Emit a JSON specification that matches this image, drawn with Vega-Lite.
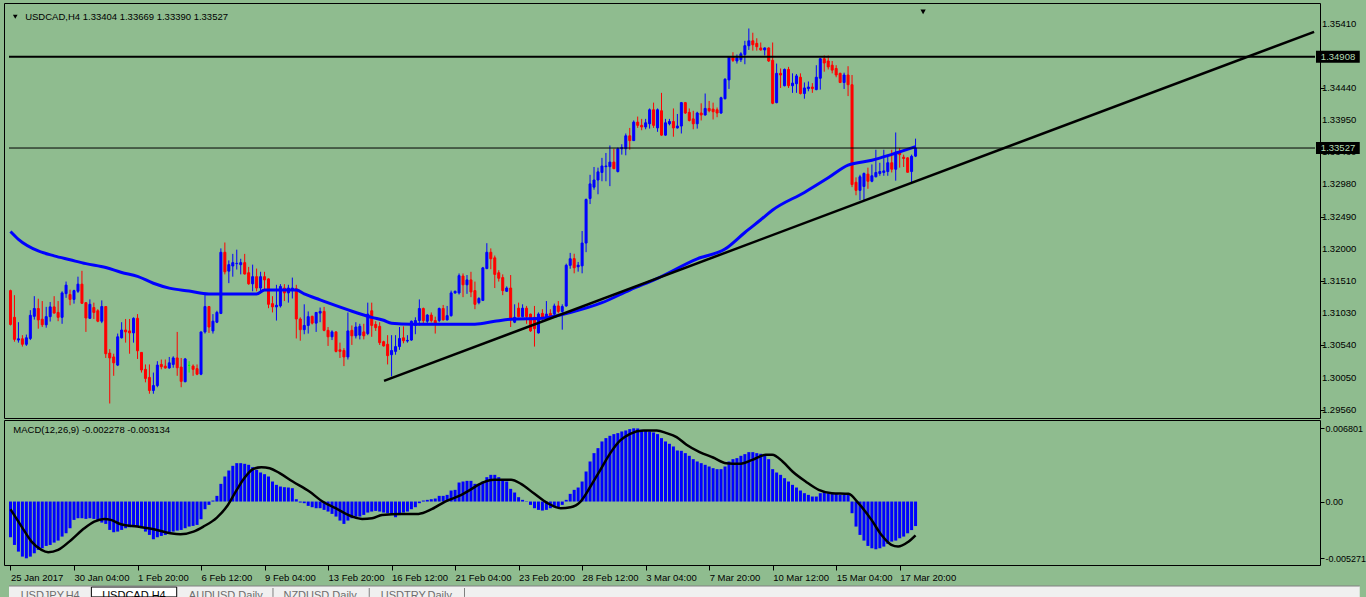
{
"$schema":"https://vega.github.io/schema/vega-lite/v6.json",
"background":"#8FBC8F",
"padding":{"left":3,"top":2,"right":0,"bottom":0},
"config":{"view":{"stroke":"#000000","strokeWidth":1},"font":"Liberation Sans","axis":{"labelFont":"Liberation Sans","titleFont":"Liberation Sans","labelOverlap":false,"labelSeparation":0,"title":null,"grid":false},"text":{"font":"Liberation Sans"}},
"bounds":"flush",
"spacing":2,
"datasets":{
"bars":[
{"i":0,"o":1.31369,"h":1.31383,"l":1.30842,"c":1.30857,"m":-0.003317},
{"i":1,"o":1.30965,"h":1.313,"l":1.30596,"c":1.30631,"m":-0.00403},
{"i":2,"o":1.30621,"h":1.30891,"l":1.30582,"c":1.3064,"m":-0.00465},
{"i":3,"o":1.3064,"h":1.30695,"l":1.30522,"c":1.30557,"m":-0.005115},
{"i":4,"o":1.30557,"h":1.30704,"l":1.30532,"c":1.30655,"m":-0.005271},
{"i":5,"o":1.30645,"h":1.31073,"l":1.30621,"c":1.30995,"m":-0.005115},
{"i":6,"o":1.3098,"h":1.31285,"l":1.30931,"c":1.31098,"m":-0.004805},
{"i":7,"o":1.31098,"h":1.31246,"l":1.30793,"c":1.30926,"m":-0.004495},
{"i":8,"o":1.30936,"h":1.31211,"l":1.30818,"c":1.30852,"m":-0.00434},
{"i":9,"o":1.30852,"h":1.31123,"l":1.30808,"c":1.30975,"m":-0.004123},
{"i":10,"o":1.30975,"h":1.31196,"l":1.30901,"c":1.31123,"m":-0.00403},
{"i":11,"o":1.31123,"h":1.31285,"l":1.31024,"c":1.31029,"m":-0.003813},
{"i":12,"o":1.31039,"h":1.31211,"l":1.30906,"c":1.30965,"m":-0.003627},
{"i":13,"o":1.30965,"h":1.31359,"l":1.30867,"c":1.31334,"m":-0.003255},
{"i":14,"o":1.31324,"h":1.31506,"l":1.3126,"c":1.31452,"m":-0.002945},
{"i":15,"o":1.3131,"h":1.31383,"l":1.31147,"c":1.31236,"m":-0.00248},
{"i":16,"o":1.31236,"h":1.31383,"l":1.31172,"c":1.31369,"m":-0.001705},
{"i":17,"o":1.31359,"h":1.3158,"l":1.31334,"c":1.31467,"m":-0.00155},
{"i":18,"o":1.31467,"h":1.31669,"l":1.3117,"c":1.31177,"m":-0.00155},
{"i":19,"o":1.31187,"h":1.3119,"l":1.30744,"c":1.30955,"m":-0.001612},
{"i":20,"o":1.3095,"h":1.31236,"l":1.3094,"c":1.31162,"m":-0.00155},
{"i":21,"o":1.31113,"h":1.31187,"l":1.3094,"c":1.31039,"m":-0.001612},
{"i":22,"o":1.31064,"h":1.31088,"l":1.30891,"c":1.30906,"m":-0.001705},
{"i":23,"o":1.30906,"h":1.31221,"l":1.30877,"c":1.31128,"m":-0.001953},
{"i":24,"o":1.31128,"h":1.31135,"l":1.3035,"c":1.30414,"m":-0.002077},
{"i":25,"o":1.30424,"h":1.30483,"l":1.29661,"c":1.3035,"m":-0.002635},
{"i":26,"o":1.30365,"h":1.30414,"l":1.3008,"c":1.30276,"m":-0.002852},
{"i":27,"o":1.30242,"h":1.30719,"l":1.30227,"c":1.3067,"m":-0.00279},
{"i":28,"o":1.30655,"h":1.30891,"l":1.30645,"c":1.30773,"m":-0.002635},
{"i":29,"o":1.30773,"h":1.3094,"l":1.30582,"c":1.30744,"m":-0.00248},
{"i":30,"o":1.30759,"h":1.3094,"l":1.30414,"c":1.30729,"m":-0.002387},
{"i":31,"o":1.30729,"h":1.30965,"l":1.30582,"c":1.3095,"m":-0.002325},
{"i":32,"o":1.3095,"h":1.31014,"l":1.30335,"c":1.30458,"m":-0.002325},
{"i":33,"o":1.30434,"h":1.3044,"l":1.30129,"c":1.30168,"m":-0.00248},
{"i":34,"o":1.30178,"h":1.30252,"l":1.29981,"c":1.3004,"m":-0.00279},
{"i":35,"o":1.30055,"h":1.30252,"l":1.29809,"c":1.29858,"m":-0.0031},
{"i":36,"o":1.29858,"h":1.30129,"l":1.29809,"c":1.29932,"m":-0.003503},
{"i":37,"o":1.29932,"h":1.30301,"l":1.29907,"c":1.30242,"m":-0.003317},
{"i":38,"o":1.30252,"h":1.30326,"l":1.30178,"c":1.30217,"m":-0.003193},
{"i":39,"o":1.30227,"h":1.30326,"l":1.30188,"c":1.30198,"m":-0.0031},
{"i":40,"o":1.30198,"h":1.30365,"l":1.30188,"c":1.30276,"m":-0.002945},
{"i":41,"o":1.30252,"h":1.30375,"l":1.30202,"c":1.3035,"m":-0.00279},
{"i":42,"o":1.3035,"h":1.30744,"l":1.3008,"c":1.30202,"m":-0.002697},
{"i":43,"o":1.30212,"h":1.3035,"l":1.29907,"c":1.29996,"m":-0.002635},
{"i":44,"o":1.29991,"h":1.3035,"l":1.29981,"c":1.30335,"m":-0.00248},
{"i":45,"o":1.30237,"h":1.30301,"l":1.30129,"c":1.30237,"m":-0.002325},
{"i":46,"o":1.30227,"h":1.30252,"l":1.3008,"c":1.30178,"m":-0.002263},
{"i":47,"o":1.30188,"h":1.30252,"l":1.30089,"c":1.30104,"m":-0.00217},
{"i":48,"o":1.30104,"h":1.30744,"l":1.30089,"c":1.30744,"m":-0.001643},
{"i":49,"o":1.30744,"h":1.3131,"l":1.30719,"c":1.31128,"m":-0.000713},
{"i":50,"o":1.31128,"h":1.31137,"l":1.30729,"c":1.30818,"m":-0.00031},
{"i":51,"o":1.30759,"h":1.31014,"l":1.30719,"c":1.30906,"m":0.000093},
{"i":52,"o":1.30891,"h":1.31064,"l":1.30877,"c":1.31039,"m":0.000527},
{"i":53,"o":1.31024,"h":1.32008,"l":1.31014,"c":1.31949,"m":0.001643},
{"i":54,"o":1.31949,"h":1.32097,"l":1.31615,"c":1.31654,"m":0.002325},
{"i":55,"o":1.31664,"h":1.31826,"l":1.31482,"c":1.31762,"m":0.002883},
{"i":56,"o":1.31742,"h":1.31925,"l":1.3158,"c":1.31792,"m":0.003317},
{"i":57,"o":1.31777,"h":1.31989,"l":1.31688,"c":1.31782,"m":0.003565},
{"i":58,"o":1.31762,"h":1.31851,"l":1.31615,"c":1.31792,"m":0.003565},
{"i":59,"o":1.31792,"h":1.31925,"l":1.31615,"c":1.3162,"m":0.003503},
{"i":60,"o":1.31639,"h":1.31728,"l":1.31457,"c":1.31472,"m":0.00341},
{"i":61,"o":1.31472,"h":1.31762,"l":1.31359,"c":1.3158,"m":0.003193},
{"i":62,"o":1.3158,"h":1.31703,"l":1.31359,"c":1.31408,"m":0.002945},
{"i":63,"o":1.31408,"h":1.31654,"l":1.31359,"c":1.3158,"m":0.002697},
{"i":64,"o":1.3158,"h":1.31654,"l":1.31369,"c":1.31531,"m":0.002542},
{"i":65,"o":1.31546,"h":1.31556,"l":1.31103,"c":1.31162,"m":0.002325},
{"i":66,"o":1.31172,"h":1.31285,"l":1.31039,"c":1.31123,"m":0.00186},
{"i":67,"o":1.31123,"h":1.31457,"l":1.30916,"c":1.31147,"m":0.00155},
{"i":68,"o":1.31137,"h":1.31467,"l":1.31113,"c":1.31432,"m":0.001395},
{"i":69,"o":1.31408,"h":1.31467,"l":1.31211,"c":1.31334,"m":0.001333},
{"i":70,"o":1.31334,"h":1.31457,"l":1.31187,"c":1.31408,"m":0.001302},
{"i":71,"o":1.31393,"h":1.31566,"l":1.3125,"c":1.31408,"m":0.00124},
{"i":72,"o":1.31398,"h":1.31457,"l":1.30645,"c":1.3094,"m":0.000217},
{"i":73,"o":1.3094,"h":1.30965,"l":1.30611,"c":1.30778,"m":-0.000093},
{"i":74,"o":1.30778,"h":1.31162,"l":1.30709,"c":1.30842,"m":-0.000155},
{"i":75,"o":1.30842,"h":1.31054,"l":1.30719,"c":1.30975,"m":-0.000403},
{"i":76,"o":1.3098,"h":1.30989,"l":1.30857,"c":1.30877,"m":-0.000527},
{"i":77,"o":1.30877,"h":1.31045,"l":1.30744,"c":1.31039,"m":-0.00062},
{"i":78,"o":1.31029,"h":1.31113,"l":1.30891,"c":1.31054,"m":-0.00062},
{"i":79,"o":1.31054,"h":1.31123,"l":1.30754,"c":1.30768,"m":-0.000775},
{"i":80,"o":1.30768,"h":1.30818,"l":1.30532,"c":1.3067,"m":-0.00093},
{"i":81,"o":1.3067,"h":1.30768,"l":1.30621,"c":1.30744,"m":-0.001147},
{"i":82,"o":1.30744,"h":1.30754,"l":1.30434,"c":1.30449,"m":-0.001395},
{"i":83,"o":1.30473,"h":1.30582,"l":1.3035,"c":1.30449,"m":-0.001767},
{"i":84,"o":1.30463,"h":1.30498,"l":1.30227,"c":1.30365,"m":-0.002077},
{"i":85,"o":1.30365,"h":1.31039,"l":1.30326,"c":1.30759,"m":-0.001767},
{"i":86,"o":1.30768,"h":1.30842,"l":1.30547,"c":1.30685,"m":-0.00155},
{"i":87,"o":1.30685,"h":1.30891,"l":1.30645,"c":1.30818,"m":-0.001395},
{"i":88,"o":1.30695,"h":1.30867,"l":1.30631,"c":1.30828,"m":-0.001395},
{"i":89,"o":1.30744,"h":1.30867,"l":1.30631,"c":1.30685,"m":-0.00124},
{"i":90,"o":1.30719,"h":1.31187,"l":1.30695,"c":1.31014,"m":-0.001023},
{"i":91,"o":1.31064,"h":1.31187,"l":1.3067,"c":1.30842,"m":-0.00093},
{"i":92,"o":1.30857,"h":1.30906,"l":1.30759,"c":1.30808,"m":-0.000868},
{"i":93,"o":1.30828,"h":1.30891,"l":1.30547,"c":1.30582,"m":-0.00093},
{"i":94,"o":1.30596,"h":1.30611,"l":1.30522,"c":1.30532,"m":-0.001023},
{"i":95,"o":1.30557,"h":1.30695,"l":1.30252,"c":1.30385,"m":-0.001085},
{"i":96,"o":1.30399,"h":1.30695,"l":1.3007,"c":1.30463,"m":-0.00124},
{"i":97,"o":1.30449,"h":1.30695,"l":1.30399,"c":1.30522,"m":-0.001457},
{"i":98,"o":1.30522,"h":1.30818,"l":1.30473,"c":1.30645,"m":-0.001147},
{"i":99,"o":1.30655,"h":1.30828,"l":1.30572,"c":1.30611,"m":-0.001023},
{"i":100,"o":1.30606,"h":1.30695,"l":1.30582,"c":1.30616,"m":-0.00093},
{"i":101,"o":1.30621,"h":1.30916,"l":1.30611,"c":1.30906,"m":-0.000713},
{"i":102,"o":1.30842,"h":1.30965,"l":1.30709,"c":1.30916,"m":-0.000527},
{"i":103,"o":1.30916,"h":1.31236,"l":1.30842,"c":1.31098,"m":-0.000155},
{"i":104,"o":1.31098,"h":1.31113,"l":1.30877,"c":1.30916,"m":0.000093},
{"i":105,"o":1.30906,"h":1.31014,"l":1.30877,"c":1.30999,"m":0.000155},
{"i":106,"o":1.30999,"h":1.31039,"l":1.30887,"c":1.30916,"m":0.000217},
{"i":107,"o":1.30916,"h":1.30975,"l":1.30719,"c":1.30877,"m":0.000279},
{"i":108,"o":1.30916,"h":1.31113,"l":1.30891,"c":1.31098,"m":0.000527},
{"i":109,"o":1.31098,"h":1.31152,"l":1.30916,"c":1.30926,"m":0.000527},
{"i":110,"o":1.30926,"h":1.31137,"l":1.30916,"c":1.3099,"m":0.00062},
{"i":111,"o":1.3099,"h":1.31369,"l":1.30975,"c":1.31334,"m":0.001023},
{"i":112,"o":1.31334,"h":1.31369,"l":1.3132,"c":1.31359,"m":0.001085},
{"i":113,"o":1.31334,"h":1.31629,"l":1.3131,"c":1.31595,"m":0.001767},
{"i":114,"o":1.3159,"h":1.31629,"l":1.3127,"c":1.31457,"m":0.00186},
{"i":115,"o":1.31457,"h":1.31605,"l":1.3132,"c":1.31531,"m":0.001922},
{"i":116,"o":1.31531,"h":1.31654,"l":1.3127,"c":1.31349,"m":0.001922},
{"i":117,"o":1.31369,"h":1.31506,"l":1.31088,"c":1.31162,"m":0.001643},
{"i":118,"o":1.31187,"h":1.3127,"l":1.31162,"c":1.3125,"m":0.00155},
{"i":119,"o":1.31221,"h":1.31728,"l":1.31211,"c":1.31713,"m":0.00186},
{"i":120,"o":1.31703,"h":1.32087,"l":1.31693,"c":1.31949,"m":0.002263},
{"i":121,"o":1.31949,"h":1.32008,"l":1.31693,"c":1.31851,"m":0.00248},
{"i":122,"o":1.31865,"h":1.319,"l":1.31408,"c":1.31615,"m":0.00248},
{"i":123,"o":1.31639,"h":1.31678,"l":1.31506,"c":1.31556,"m":0.002263},
{"i":124,"o":1.31566,"h":1.31615,"l":1.313,"c":1.31369,"m":0.001922},
{"i":125,"o":1.31359,"h":1.31433,"l":1.31349,"c":1.31408,"m":0.00186},
{"i":126,"o":1.31408,"h":1.31605,"l":1.30818,"c":1.3094,"m":0.001178},
{"i":127,"o":1.30891,"h":1.31162,"l":1.30877,"c":1.30965,"m":0.000837},
{"i":128,"o":1.31103,"h":1.31187,"l":1.30965,"c":1.30975,"m":0.000403},
{"i":129,"o":1.30975,"h":1.31162,"l":1.30965,"c":1.31103,"m":0.000155},
{"i":130,"o":1.31103,"h":1.31137,"l":1.30867,"c":1.30975,"m":-0.000031},
{"i":131,"o":1.31014,"h":1.3102,"l":1.30744,"c":1.30759,"m":-0.00031},
{"i":132,"o":1.30965,"h":1.31137,"l":1.30522,"c":1.30793,"m":-0.00062},
{"i":133,"o":1.30729,"h":1.31039,"l":1.30719,"c":1.31014,"m":-0.000775},
{"i":134,"o":1.31024,"h":1.31088,"l":1.30916,"c":1.30955,"m":-0.000837},
{"i":135,"o":1.30945,"h":1.31211,"l":1.30916,"c":1.31014,"m":-0.000775},
{"i":136,"o":1.31024,"h":1.31088,"l":1.3094,"c":1.30965,"m":-0.00062},
{"i":137,"o":1.31014,"h":1.31172,"l":1.30965,"c":1.31137,"m":-0.000527},
{"i":138,"o":1.31137,"h":1.31211,"l":1.31024,"c":1.31054,"m":-0.000527},
{"i":139,"o":1.31054,"h":1.31162,"l":1.30778,"c":1.31128,"m":-0.00031},
{"i":140,"o":1.31137,"h":1.31777,"l":1.31123,"c":1.31752,"m":0.000155},
{"i":141,"o":1.31752,"h":1.3194,"l":1.317,"c":1.31851,"m":0.000713},
{"i":142,"o":1.31853,"h":1.31927,"l":1.31631,"c":1.31715,"m":0.001085},
{"i":143,"o":1.3173,"h":1.31803,"l":1.31656,"c":1.31754,"m":0.001302},
{"i":144,"o":1.31744,"h":1.32271,"l":1.31631,"c":1.32089,"m":0.00186},
{"i":145,"o":1.32089,"h":1.32763,"l":1.31951,"c":1.32748,"m":0.00279},
{"i":146,"o":1.32763,"h":1.33122,"l":1.32679,"c":1.32984,"m":0.00372},
{"i":147,"o":1.32935,"h":1.3324,"l":1.32896,"c":1.33043,"m":0.004495},
{"i":148,"o":1.33043,"h":1.3323,"l":1.32827,"c":1.33166,"m":0.00496},
{"i":149,"o":1.33157,"h":1.33378,"l":1.33024,"c":1.33255,"m":0.00558},
{"i":150,"o":1.33245,"h":1.33452,"l":1.33024,"c":1.33255,"m":0.00589},
{"i":151,"o":1.33245,"h":1.33565,"l":1.3295,"c":1.33314,"m":0.006107},
{"i":152,"o":1.33314,"h":1.33516,"l":1.33206,"c":1.33215,"m":0.006262},
{"i":153,"o":1.33171,"h":1.33535,"l":1.33157,"c":1.33516,"m":0.006355},
{"i":154,"o":1.33516,"h":1.33585,"l":1.33427,"c":1.33535,"m":0.00651},
{"i":155,"o":1.33516,"h":1.33747,"l":1.33417,"c":1.33712,"m":0.006603},
{"i":156,"o":1.33712,"h":1.33831,"l":1.33501,"c":1.33639,"m":0.006727},
{"i":157,"o":1.33639,"h":1.33944,"l":1.33634,"c":1.33919,"m":0.006801},
{"i":158,"o":1.33919,"h":1.34003,"l":1.33831,"c":1.3387,"m":0.00679},
{"i":159,"o":1.3387,"h":1.33968,"l":1.33796,"c":1.33845,"m":0.006665},
{"i":160,"o":1.33845,"h":1.33968,"l":1.33811,"c":1.33909,"m":0.006572},
{"i":161,"o":1.33894,"h":1.34126,"l":1.33821,"c":1.34106,"m":0.00651},
{"i":162,"o":1.34106,"h":1.34214,"l":1.33831,"c":1.3387,"m":0.006417},
{"i":163,"o":1.33831,"h":1.34126,"l":1.33772,"c":1.34106,"m":0.006262},
{"i":164,"o":1.34091,"h":1.34362,"l":1.33712,"c":1.33722,"m":0.00589},
{"i":165,"o":1.33722,"h":1.33968,"l":1.33712,"c":1.33909,"m":0.00558},
{"i":166,"o":1.33894,"h":1.33968,"l":1.3387,"c":1.33929,"m":0.005363},
{"i":167,"o":1.33929,"h":1.34126,"l":1.33698,"c":1.33831,"m":0.005115},
{"i":168,"o":1.33831,"h":1.34042,"l":1.33821,"c":1.3386,"m":0.004743},
{"i":169,"o":1.3386,"h":1.34224,"l":1.33747,"c":1.34214,"m":0.004712},
{"i":170,"o":1.34214,"h":1.34224,"l":1.34042,"c":1.34057,"m":0.004495},
{"i":171,"o":1.34067,"h":1.34126,"l":1.33929,"c":1.33944,"m":0.004247},
{"i":172,"o":1.33968,"h":1.34091,"l":1.33811,"c":1.33894,"m":0.003937},
{"i":173,"o":1.33894,"h":1.34076,"l":1.33821,"c":1.34057,"m":0.00372},
{"i":174,"o":1.34057,"h":1.34204,"l":1.33944,"c":1.34027,"m":0.003565},
{"i":175,"o":1.34027,"h":1.34352,"l":1.34017,"c":1.34126,"m":0.00341},
{"i":176,"o":1.34126,"h":1.34239,"l":1.34067,"c":1.34091,"m":0.003255},
{"i":177,"o":1.34116,"h":1.34214,"l":1.33959,"c":1.34076,"m":0.0031},
{"i":178,"o":1.34106,"h":1.3414,"l":1.33993,"c":1.34057,"m":0.003007},
{"i":179,"o":1.34057,"h":1.34303,"l":1.34042,"c":1.34288,"m":0.003007},
{"i":180,"o":1.34273,"h":1.34583,"l":1.34263,"c":1.34568,"m":0.003255},
{"i":181,"o":1.34558,"h":1.34913,"l":1.34421,"c":1.34903,"m":0.00372},
{"i":182,"o":1.34903,"h":1.34977,"l":1.34829,"c":1.34854,"m":0.003937},
{"i":183,"o":1.34844,"h":1.34942,"l":1.34805,"c":1.34893,"m":0.00403},
{"i":184,"o":1.34864,"h":1.34977,"l":1.34829,"c":1.34952,"m":0.004247},
{"i":185,"o":1.34942,"h":1.35149,"l":1.34795,"c":1.35075,"m":0.004402},
{"i":186,"o":1.35075,"h":1.35336,"l":1.35011,"c":1.35149,"m":0.004588},
{"i":187,"o":1.35149,"h":1.35272,"l":1.35001,"c":1.3509,"m":0.004588},
{"i":188,"o":1.3511,"h":1.35188,"l":1.35001,"c":1.3506,"m":0.004495},
{"i":189,"o":1.35041,"h":1.35124,"l":1.35001,"c":1.35011,"m":0.004433},
{"i":190,"o":1.35011,"h":1.35051,"l":1.34928,"c":1.35041,"m":0.00434},
{"i":191,"o":1.35041,"h":1.35051,"l":1.34829,"c":1.34844,"m":0.003937},
{"i":192,"o":1.34854,"h":1.35124,"l":1.3419,"c":1.34204,"m":0.003007},
{"i":193,"o":1.34214,"h":1.34805,"l":1.34204,"c":1.34657,"m":0.002697},
{"i":194,"o":1.34657,"h":1.34731,"l":1.34436,"c":1.34632,"m":0.00248},
{"i":195,"o":1.3447,"h":1.34731,"l":1.3446,"c":1.34716,"m":0.00217},
{"i":196,"o":1.34716,"h":1.34755,"l":1.34436,"c":1.3447,"m":0.00186},
{"i":197,"o":1.3447,"h":1.34657,"l":1.34362,"c":1.34509,"m":0.00155},
{"i":198,"o":1.345,"h":1.34647,"l":1.34362,"c":1.34618,"m":0.001302},
{"i":199,"o":1.34598,"h":1.34657,"l":1.34337,"c":1.34352,"m":0.001023},
{"i":200,"o":1.34352,"h":1.34519,"l":1.34273,"c":1.34436,"m":0.000775},
{"i":201,"o":1.34426,"h":1.34534,"l":1.34386,"c":1.3445,"m":0.00062},
{"i":202,"o":1.3445,"h":1.34509,"l":1.34362,"c":1.34426,"m":0.000465},
{"i":203,"o":1.34411,"h":1.3478,"l":1.34401,"c":1.34598,"m":0.000465},
{"i":204,"o":1.34583,"h":1.34888,"l":1.34411,"c":1.34878,"m":0.000775},
{"i":205,"o":1.34878,"h":1.34928,"l":1.34682,"c":1.34814,"m":0.00093},
{"i":206,"o":1.34844,"h":1.34928,"l":1.34716,"c":1.34755,"m":0.000775},
{"i":207,"o":1.3478,"h":1.34844,"l":1.34657,"c":1.34706,"m":0.000713},
{"i":208,"o":1.34731,"h":1.3478,"l":1.34598,"c":1.34632,"m":0.000713},
{"i":209,"o":1.34657,"h":1.34667,"l":1.34509,"c":1.34519,"m":0.00062},
{"i":210,"o":1.34519,"h":1.34667,"l":1.34421,"c":1.34632,"m":0.00062},
{"i":211,"o":1.34632,"h":1.34765,"l":1.34313,"c":1.34485,"m":0.00062},
{"i":212,"o":1.34485,"h":1.34632,"l":1.32935,"c":1.32974,"m":-0.001085},
{"i":213,"o":1.33009,"h":1.33083,"l":1.32812,"c":1.32886,"m":-0.002325},
{"i":214,"o":1.32886,"h":1.33122,"l":1.32738,"c":1.33092,"m":-0.0031},
{"i":215,"o":1.32945,"h":1.33157,"l":1.32738,"c":1.33142,"m":-0.003627},
{"i":216,"o":1.33132,"h":1.3323,"l":1.3291,"c":1.33024,"m":-0.004123},
{"i":217,"o":1.33024,"h":1.33279,"l":1.33009,"c":1.33107,"m":-0.00434},
{"i":218,"o":1.33092,"h":1.33501,"l":1.33083,"c":1.33157,"m":-0.004433},
{"i":219,"o":1.33142,"h":1.33304,"l":1.33107,"c":1.33171,"m":-0.00434},
{"i":220,"o":1.33157,"h":1.33501,"l":1.33107,"c":1.33181,"m":-0.004185},
{"i":221,"o":1.33171,"h":1.33402,"l":1.33107,"c":1.33304,"m":-0.003937},
{"i":222,"o":1.33304,"h":1.33501,"l":1.33157,"c":1.33206,"m":-0.00372},
{"i":223,"o":1.33206,"h":1.33762,"l":1.33033,"c":1.33466,"m":-0.003627},
{"i":224,"o":1.33466,"h":1.33526,"l":1.3323,"c":1.33427,"m":-0.00341},
{"i":225,"o":1.33388,"h":1.33427,"l":1.3324,"c":1.33368,"m":-0.003255},
{"i":226,"o":1.33378,"h":1.33388,"l":1.33157,"c":1.3316,"m":-0.00295},
{"i":227,"o":1.33171,"h":1.33427,"l":1.32994,"c":1.33402,"m":-0.00265},
{"i":228,"o":1.33404,"h":1.33669,"l":1.3339,"c":1.33527,"m":-0.002278}
],
"ma":[{"i":0,"v":1.32264},{"i":2,"v":1.32146},{"i":7,"v":1.31969},{"i":11,"v":1.31895},{"i":15,"v":1.31836},{"i":19,"v":1.31777},{"i":24,"v":1.31718},{"i":28,"v":1.31644},{"i":32,"v":1.31585},{"i":36,"v":1.31481},{"i":40,"v":1.31407},{"i":45,"v":1.31363},{"i":50,"v":1.31319},{"i":62,"v":1.31319},{"i":64,"v":1.31378},{"i":72,"v":1.31378},{"i":74,"v":1.31319},{"i":78,"v":1.3123},{"i":82,"v":1.31142},{"i":87,"v":1.31038},{"i":91,"v":1.30964},{"i":94,"v":1.3092},{"i":96,"v":1.30876},{"i":101,"v":1.30861},{"i":117,"v":1.30861},{"i":122,"v":1.30905},{"i":126,"v":1.30935},{"i":134,"v":1.3095},{"i":141,"v":1.31038},{"i":149,"v":1.31186},{"i":156,"v":1.31378},{"i":163,"v":1.31555},{"i":173,"v":1.3185},{"i":180,"v":1.31998},{"i":185,"v":1.32249},{"i":189,"v":1.32441},{"i":192,"v":1.32589},{"i":200,"v":1.32855},{"i":206,"v":1.33076},{"i":211,"v":1.33268},{"i":217,"v":1.33342},{"i":222,"v":1.33431},{"i":228,"v":1.33549}],
"sig":[{"i":0,"v":-0.000713},{"i":2.8,"v":-0.002325},{"i":5.3,"v":-0.00372},{"i":7.8,"v":-0.004495},{"i":9.5,"v":-0.004712},{"i":12,"v":-0.004495},{"i":15.3,"v":-0.003565},{"i":18.6,"v":-0.00248},{"i":21.1,"v":-0.00186},{"i":23.6,"v":-0.001612},{"i":25.3,"v":-0.001705},{"i":27.8,"v":-0.002108},{"i":32,"v":-0.002325},{"i":36.1,"v":-0.002573},{"i":40.3,"v":-0.002945},{"i":42.8,"v":-0.003038},{"i":46.1,"v":-0.00279},{"i":48.6,"v":-0.002325},{"i":52,"v":-0.001488},{"i":54.5,"v":-0.000465},{"i":57,"v":0.001085},{"i":58.6,"v":0.002015},{"i":61.1,"v":0.003007},{"i":63.2,"v":0.003193},{"i":65.3,"v":0.0031},{"i":67.8,"v":0.002635},{"i":71.1,"v":0.00186},{"i":75.3,"v":0.00093},{"i":78.6,"v":0},{"i":81.9,"v":-0.00062},{"i":86.1,"v":-0.001395},{"i":88.6,"v":-0.001612},{"i":91.1,"v":-0.00155},{"i":93.6,"v":-0.00124},{"i":98.6,"v":-0.001147},{"i":102.8,"v":-0.001147},{"i":106.1,"v":-0.000713},{"i":109.5,"v":0},{"i":113.6,"v":0.00062},{"i":116.1,"v":0.001147},{"i":117.8,"v":0.00155},{"i":122,"v":0.002015},{"i":126.1,"v":0.002015},{"i":128.6,"v":0.001643},{"i":132,"v":0.000713},{"i":135.3,"v":-0.000155},{"i":138.6,"v":-0.00062},{"i":141.1,"v":-0.000527},{"i":143.6,"v":0},{"i":146.1,"v":0.001395},{"i":148.6,"v":0.002945},{"i":151.1,"v":0.004495},{"i":153.6,"v":0.005673},{"i":156.1,"v":0.006293},{"i":159.5,"v":0.006603},{"i":162.8,"v":0.006603},{"i":165.3,"v":0.006355},{"i":167.8,"v":0.005983},{"i":170.3,"v":0.00527},{"i":173.6,"v":0.004588},{"i":177,"v":0.004092},{"i":180.3,"v":0.003565},{"i":183.6,"v":0.003503},{"i":186.9,"v":0.003875},{"i":190.3,"v":0.00434},{"i":191.9,"v":0.00434},{"i":194.5,"v":0.00372},{"i":197,"v":0.00279},{"i":200.3,"v":0.00186},{"i":203.6,"v":0.001085},{"i":206.9,"v":0.000775},{"i":211.1,"v":0.000713},{"i":213.6,"v":-0.000155},{"i":216.9,"v":-0.001705},{"i":219.4,"v":-0.0031},{"i":221.9,"v":-0.00403},{"i":223.6,"v":-0.004185},{"i":226.1,"v":-0.00375},{"i":228,"v":-0.003134}],
"ticks":[{"p":1.2956,"t":"1.29560"},{"p":1.3005,"t":"1.30050"},{"p":1.3054,"t":"1.30540"},{"p":1.3103,"t":"1.31030"},{"p":1.3151,"t":"1.31510"},{"p":1.32,"t":"1.32000"},{"p":1.3249,"t":"1.32490"},{"p":1.3298,"t":"1.32980"},{"p":1.3346,"t":"1.33460"},{"p":1.3395,"t":"1.33950"},{"p":1.3444,"t":"1.34440"},{"p":1.3541,"t":"1.35410"}]
},
"vconcat":[
{
"width":1316,"height":415,
"layer":[
{"data":{"name":"bars"},"mark":{"type":"rule","strokeWidth":1},
 "encoding":{
  "x":{"field":"i","type":"quantitative","scale":{"domain":[-0.375,328.625],"nice":false,"zero":false},"axis":null},
  "y":{"field":"l","type":"quantitative","scale":{"domain":[1.29517,1.35646],"nice":false,"zero":false},
   "axis":{"orient":"right","title":null,"grid":false,"domain":false,"labels":false,"values":[1.2956,1.3005,1.3054,1.3103,1.3151,1.32,1.3249,1.3298,1.3346,1.3395,1.3444,1.3541],"tickColor":"#000000","tickSize":4}},
  "y2":{"field":"h"},
  "color":{"condition":[{"test":"abs(datum.c-datum.o)<0.00002","value":"#00FF00"},{"test":"datum.c>datum.o","value":"#0000FF"}],"value":"#FF0000"}}},
{"data":{"name":"bars"},"mark":{"type":"bar","width":2,"strokeWidth":1},
 "encoding":{
  "x":{"field":"i","type":"quantitative"},
  "y":{"field":"o","type":"quantitative"},
  "y2":{"field":"c"},
  "fill":{"condition":[{"test":"abs(datum.c-datum.o)<0.00002","value":"#00FF00"},{"test":"datum.c>datum.o","value":"#0000FF"}],"value":"#FF0000"},
  "stroke":{"condition":[{"test":"abs(datum.c-datum.o)<0.00002","value":"#00FF00"},{"test":"datum.c>datum.o","value":"#0000FF"}],"value":"#FF0000"}}},
{"data":{"name":"ma"},"mark":{"type":"line","color":"#0000FF","strokeWidth":3,"interpolate":"monotone"},
 "encoding":{"x":{"field":"i","type":"quantitative"},"y":{"field":"v","type":"quantitative"}}},
{"data":{"values":[{"p":1.34908}]},"mark":{"type":"rule","color":"#000000","strokeWidth":2},
 "encoding":{"x":{"datum":-0.375,"type":"quantitative"},"x2":{"datum":328.625},"y":{"field":"p","type":"quantitative"}}},
{"data":{"values":[{"p":1.33527}]},"mark":{"type":"rule","color":"#000000","strokeWidth":1},
 "encoding":{"x":{"datum":-0.375,"type":"quantitative"},"x2":{"datum":328.625},"y":{"field":"p","type":"quantitative"}}},
{"data":{"values":[{"i":94.1,"v":1.30004},{"i":328.4,"v":1.35285}]},"mark":{"type":"line","color":"#000000","strokeWidth":2.5},
 "encoding":{"x":{"field":"i","type":"quantitative"},"y":{"field":"v","type":"quantitative"}}},
{"data":{"name":"ticks"},"mark":{"type":"text","align":"left","baseline":"middle","fontSize":9.5,"color":"#000000"},
 "encoding":{"x":{"datum":330.375,"type":"quantitative"},"y":{"field":"p","type":"quantitative"},"text":{"field":"t"}}},
{"data":{"values":[{"p":1.34908,"t":"1.34908"},{"p":1.33527,"t":"1.33527"}]},"layer":[
 {"mark":{"type":"bar","height":12,"color":"#000000"},"encoding":{"x":{"datum":328.875,"type":"quantitative"},"x2":{"datum":339.9},"y":{"field":"p","type":"quantitative"}}},
 {"mark":{"type":"text","align":"left","baseline":"middle","fontSize":9.5,"color":"#B4DCB4"},"encoding":{"x":{"datum":330.1,"type":"quantitative"},"y":{"field":"p","type":"quantitative"},"text":{"field":"t"}}}
]},
{"data":{"values":[{"t":"USDCAD,H4  1.33404 1.33669 1.33390 1.33527"}]},"mark":{"type":"text","align":"left","baseline":"middle","fontSize":9.5,"color":"#000000"},
 "encoding":{"x":{"datum":3.7,"type":"quantitative"},"y":{"datum":1.35513,"type":"quantitative"},"text":{"field":"t"}}},
{"data":{"values":[{"k":"header"}]},"mark":{"type":"point","shape":"triangle-down","filled":true,"color":"#000000","opacity":1,"size":22},
 "encoding":{"x":{"datum":1.2,"type":"quantitative"},"y":{"datum":1.35513,"type":"quantitative"}}},
{"data":{"values":[{"k":"shift"}]},"mark":{"type":"point","shape":"triangle-down","filled":true,"color":"#000000","opacity":1,"size":28},
 "encoding":{"x":{"datum":229.9,"type":"quantitative"},"y":{"datum":1.35587,"type":"quantitative"}}}
]
},
{
"width":1316,"height":145,
"layer":[
{"data":{"name":"bars"},"mark":{"type":"bar","width":3,"color":"#0000FF"},
 "encoding":{
  "x":{"field":"i","type":"quantitative","scale":{"domain":[-0.375,328.625],"nice":false,"zero":false},
   "axis":{"orient":"bottom","title":null,"grid":false,"domain":false,"values":[0,16,32,48,64,80,96,112,128,144,160,176,192,208,224],
    "labelExpr":"['25 Jan 2017','30 Jan 04:00','1 Feb 20:00','6 Feb 12:00','9 Feb 04:00','13 Feb 20:00','16 Feb 12:00','21 Feb 04:00','23 Feb 20:00','28 Feb 12:00','3 Mar 04:00','7 Mar 20:00','10 Mar 12:00','15 Mar 04:00','17 Mar 20:00'][round(datum.value/16)]",
    "labelAlign":"left","labelBaseline":"top","labelFlush":false,"labelOverlap":false,"labelBound":false,"tickColor":"#000000","tickSize":5,"labelColor":"#000000","labelFontSize":9.5,"labelPadding":2,"labelOffset":0}},
  "y":{"field":"m","type":"quantitative","scale":{"domain":[-0.005894,0.007573],"nice":false,"zero":false},
   "axis":{"orient":"right","title":null,"grid":false,"domain":false,"values":[0.006801,0,-0.005271],
    "labelExpr":"datum.value > 0.001 ? '0.006801' : (datum.value < -0.001 ? '-0.005271' : '0.00')",
    "tickColor":"#000000","tickSize":4,"labelColor":"#000000","labelFontSize":9,"labelPadding":1,"labelOverlap":false,"labelFlush":false,"labelBound":false}},
  "y2":{"datum":0}}},
{"data":{"name":"sig"},"mark":{"type":"line","color":"#000000","strokeWidth":2.5,"interpolate":"monotone"},
 "encoding":{"x":{"field":"i","type":"quantitative"},"y":{"field":"v","type":"quantitative"}}},
{"data":{"values":[{"t":"MACD(12,26,9) -0.002278 -0.003134"}]},"mark":{"type":"text","align":"left","baseline":"middle","fontSize":9.5,"color":"#000000"},
 "encoding":{"x":{"datum":0.7,"type":"quantitative"},"y":{"datum":0.006644,"type":"quantitative"},"text":{"field":"t"}}},
{"data":{"values":[{"k":"strip"}]},"mark":{"type":"rect","color":"#F0F0F0"},
 "encoding":{"x":{"datum":-0.375,"type":"quantitative"},"x2":{"datum":339.9},"y":{"datum":-0.007845,"type":"quantitative"},"y2":{"datum":-0.00886}}},
{"data":{"values":[{"k":"active"}]},"mark":{"type":"rect","color":"#FFFFFF","stroke":"#000000","strokeWidth":1},
 "encoding":{"x":{"datum":20.375,"type":"quantitative"},"x2":{"datum":41.875},"y":{"datum":-0.007938,"type":"quantitative"},"y2":{"datum":-0.00886}}},
{"data":{"values":[{"x":66.125},{"x":90.375},{"x":114.375}]},"mark":{"type":"rule","color":"#808080","strokeWidth":1},
 "encoding":{"x":{"field":"x","type":"quantitative"},"y":{"datum":-0.008031,"type":"quantitative"},"y2":{"datum":-0.00886}}},
{"data":{"values":[{"k":"line"}]},"mark":{"type":"rule","color":"#808080","strokeWidth":1},
 "encoding":{"x":{"datum":-0.375,"type":"quantitative"},"x2":{"datum":339.9},"y":{"datum":-0.007845,"type":"quantitative"}}},
{"data":{"values":[{"t":"USDJPY,H4","x":10.0,"k":"n"},{"t":"USDCAD,H4","x":31.1,"k":"a"},{"t":"AUDUSD,Daily","x":54.25,"k":"n"},{"t":"NZDUSD,Daily","x":78.0,"k":"n"},{"t":"USDTRY,Daily","x":102.25,"k":"n"}]},
 "mark":{"type":"text","align":"center","baseline":"top","fontSize":11},
 "encoding":{"x":{"field":"x","type":"quantitative"},"y":{"datum":-0.008216,"type":"quantitative"},"text":{"field":"t"},
  "color":{"condition":{"test":"datum.k=='a'","value":"#000000"},"value":"#6D6D6D"}}}
]
}
]
}
